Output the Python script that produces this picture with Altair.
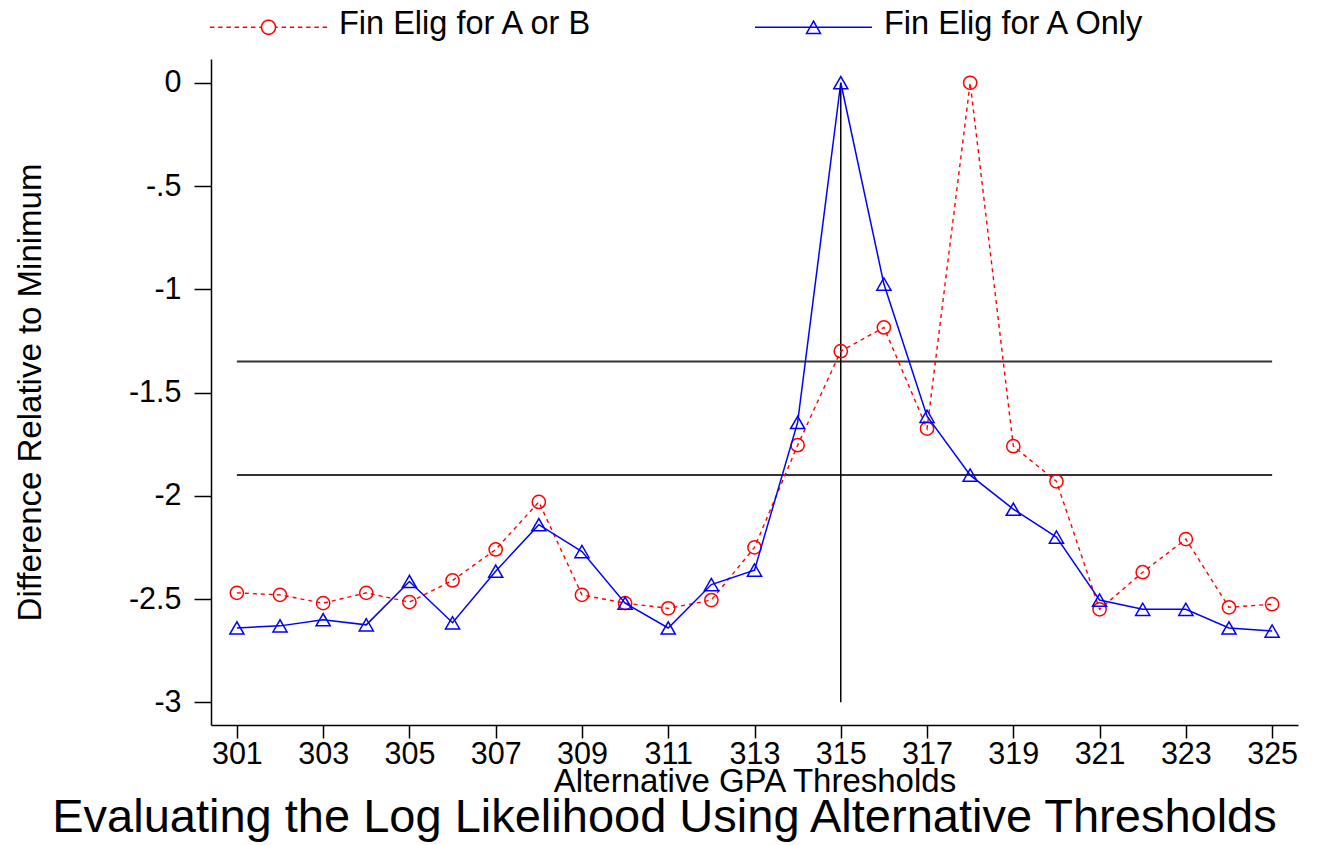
import math
import altair as alt
import pandas as pd

# ---- data ----
thresholds = list(range(301, 326))
fin_a_or_b = [-2.47, -2.48, -2.52, -2.47, -2.515, -2.41, -2.26, -2.03, -2.48, -2.52,
              -2.545, -2.505, -2.25, -1.755, -1.30, -1.185, -1.675, 0.0, -1.76, -1.93,
              -2.55, -2.37, -2.21, -2.54, -2.525]
fin_a_only = [-2.64, -2.63, -2.60, -2.625, -2.415, -2.615, -2.365, -2.14, -2.27, -2.52,
              -2.64, -2.43, -2.36, -1.645, 0.0, -0.975, -1.615, -1.90, -2.065, -2.20,
              -2.505, -2.55, -2.55, -2.64, -2.655]
series_names = ["Fin Elig for A or B", "Fin Elig for A Only"]
ref_levels = [-1.35, -1.90]
ref_x_range = [301, 325]
vline_x = [315]
vline_y_range = [0, -3]
x_tick_values = list(range(301, 326, 2))
y_tick_values = [0, -0.5, -1, -1.5, -2, -2.5, -3]

FONT = "Liberation Sans"
RED = "#ff0000"
BLUE = "#0000ff"

df_red = pd.DataFrame({"x": thresholds, "y": fin_a_or_b, "series": series_names[0]})
df_blue = pd.DataFrame({"x": thresholds, "y": fin_a_only, "series": series_names[1]})
df_all = pd.concat([df_red, df_blue], ignore_index=True)
df_h = pd.DataFrame({"y": ref_levels, "x": ref_x_range[0], "x2": ref_x_range[1]})
df_v = pd.DataFrame({"x": vline_x, "y": vline_y_range[0], "y2": vline_y_range[1]})

# ---- custom legend symbols (line through marker) ----
LEG_UNIT = 20.0          # px per path unit (symbol size = (2*unit)^2)
LEG_HALF = 58.5 / LEG_UNIT
LEG_DY = 3.5 / LEG_UNIT


def circle_pts(r, cy, n=36):
    pts = []
    for i in range(n + 1):
        a = 2 * math.pi * i / n
        pts.append((r * math.cos(a), cy + r * math.sin(a)))
    return "M" + "L".join(f"{px:.4f},{py:.4f}" for px, py in pts) + "Z"


def red_symbol():
    r = 7.0 / LEG_UNIT
    dash, gap = 4.4 / LEG_UNIT, 3.8 / LEG_UNIT
    stop = r + 0.6 / LEG_UNIT
    cy = LEG_DY
    parts = []
    x = -LEG_HALF
    while x < -stop:
        x2 = min(x + dash, -stop)
        parts.append(f"M{x:.4f},{cy:.4f}H{x2:.4f}")
        x = x2 + gap
    x = LEG_HALF
    while x > stop:
        x2 = max(x - dash, stop)
        parts.append(f"M{x:.4f},{cy:.4f}H{x2:.4f}")
        x = x2 - gap
    parts.append(circle_pts(r, cy))
    return "".join(parts)


def blue_symbol():
    w = 7.0 / LEG_UNIT
    h = 6.2 / LEG_UNIT
    cy = LEG_DY
    return (f"M{-LEG_HALF:.4f},{cy:.4f}H{LEG_HALF:.4f}"
            f"M0,{cy - h:.4f}L{-w:.4f},{cy + h:.4f}L{w:.4f},{cy + h:.4f}Z")


x_scale = alt.Scale(domain=[300.4, 325.6], nice=False, zero=False)
y_scale = alt.Scale(domain=[-3.11, 0.115], nice=False, zero=False)

x_axis = alt.Axis(
    values=x_tick_values, title="Alternative GPA Thresholds", grid=False,
    tickSize=13, labelPadding=1, labelFontSize=30.5, titleFontSize=33,
    titleFontWeight="normal", labelFont=FONT, titleFont=FONT,
    titleY=66, titleBaseline="alphabetic", labelFlush=False, labelOverlap=False,
)
y_axis = alt.Axis(
    values=y_tick_values, title="Difference Relative to Minimum", grid=False,
    tickSize=17, labelPadding=13, labelFontSize=30.5, titleFontSize=33,
    titleFontWeight="normal", labelFont=FONT, titleFont=FONT,
    labelExpr="datum.value == 0 ? '0' : replace(toString(datum.value), '0.', '.')",
    titleAngle=270, titleX=-171, titleY=333, titleBaseline="alphabetic",
    titleAlign="center", labelOverlap=False,
)

base_x = alt.X("x:Q", scale=x_scale, axis=x_axis)
base_y = alt.Y("y:Q", scale=y_scale, axis=y_axis)

hrules = alt.Chart(df_h).mark_rule(color="#333333", strokeWidth=2).encode(
    x=alt.X("x:Q", scale=x_scale, axis=x_axis), x2="x2:Q",
    y=alt.Y("y:Q", scale=y_scale, axis=y_axis),
)
vrule = alt.Chart(df_v).mark_rule(color="#000000", strokeWidth=1.5).encode(
    x=alt.X("x:Q", scale=x_scale, axis=x_axis),
    y=alt.Y("y:Q", scale=y_scale, axis=y_axis), y2="y2:Q",
)

red_line = alt.Chart(df_red).mark_line(color=RED, strokeWidth=1.4, strokeDash=[4, 4]).encode(
    x=base_x, y=base_y)
red_pts = alt.Chart(df_red).mark_point(shape="circle", filled=False, color=RED, size=175,
                                       strokeWidth=1.5, opacity=1).encode(x=base_x, y=base_y)
blue_line = alt.Chart(df_blue).mark_line(color=BLUE, strokeWidth=1.5).encode(
    x=base_x, y=base_y)
blue_pts = alt.Chart(df_blue).mark_point(shape="triangle-up", filled=False, color=BLUE,
                                         size=200, strokeWidth=1.5, opacity=1).encode(
    x=base_x, y=base_y)

legend_spec = alt.Legend(
    title=None, orient="none", direction="horizontal", legendX=36.5, legendY=-56.5,
    symbolSize=(2 * LEG_UNIT) ** 2, symbolStrokeWidth=1.5, labelFontSize=32.5,
    labelFont=FONT, labelColor="#000000", labelOffset=49.5, columnPadding=157,
    padding=0, labelLimit=600,
)
legend_layer = alt.Chart(df_all).mark_point(filled=False, opacity=1).encode(
    color=alt.Color("series:N", scale=alt.Scale(domain=series_names, range=[RED, BLUE]),
                    legend=legend_spec),
    shape=alt.Shape("series:N", scale=alt.Scale(domain=series_names,
                                                range=[red_symbol(), blue_symbol()]),
                    legend=legend_spec),
).transform_filter("false")

chart = alt.layer(hrules, vrule, red_line, red_pts, blue_line, blue_pts, legend_layer).properties(
    width=1087, height=666,
    autosize=alt.AutoSizeParams(type="none"),
    padding={"left": 203, "top": 51, "right": 12, "bottom": 120},
    background="#ffffff",
    title=alt.TitleParams(
        "Evaluating the Log Likelihood Using Alternative Thresholds",
        orient="bottom", fontSize=47, fontWeight="normal", font=FONT, color="#000000",
        anchor="middle", dx=-90, offset=-3,
    ),
).configure_view(stroke=None).configure_axis(
    labelColor="#000000", titleColor="#000000",
    domainColor="#000000", tickColor="#000000",
    domainWidth=1.5, tickWidth=1.5,
)

chart.save("out.html", embed_options={"renderer": "svg", "actions": False})
